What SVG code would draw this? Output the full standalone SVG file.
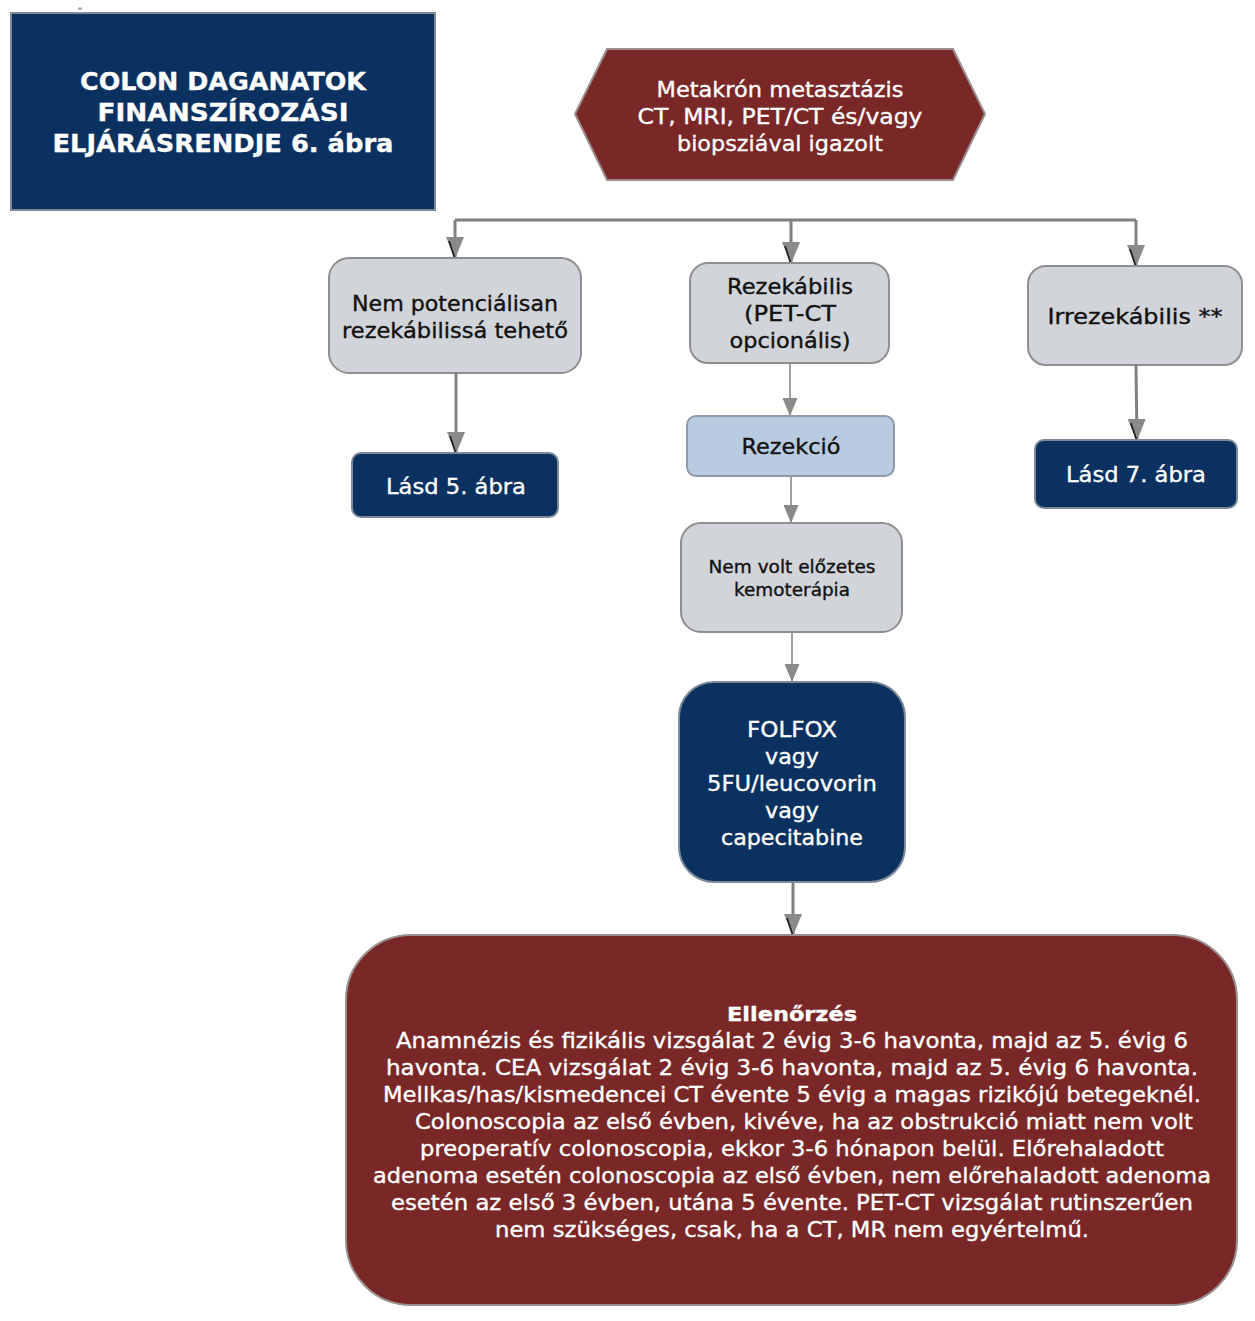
<svg xmlns="http://www.w3.org/2000/svg" width="1255" height="1321" viewBox="0 0 1255 1321">
<style>
text{font-family:"DejaVu Sans","Verdana",sans-serif;text-anchor:middle}
.w{fill:#ffffff;stroke:#ffffff;stroke-width:0.35}
.k{fill:#111111;stroke:#111111;stroke-width:0.35}
.gray{fill:#d1d4d9;stroke:#8f8f8f;stroke-width:2}
.blue{fill:#0a3160;stroke:#7f8a99;stroke-width:2}
.red{fill:#7a2727;stroke:#9a8f8f;stroke-width:2}
.c{stroke:#808080;fill:none}
</style>
<defs>
<marker id="ah" markerWidth="22" markerHeight="18" refX="22" refY="9" orient="auto" markerUnits="userSpaceOnUse" viewBox="0 0 22 18">
<path d="M0,0 L22,9 L0,18 Z" fill="#8a8a8a"/>
<path d="M4,15 L22,9" stroke="#222" stroke-width="1.8"/>
</marker>
<marker id="ahs" markerWidth="18" markerHeight="15" refX="18" refY="7.5" orient="auto" markerUnits="userSpaceOnUse" viewBox="0 0 18 15">
<path d="M0,0 L18,7.5 L0,15 Z" fill="#8a8a8a"/>
</marker>
</defs>
<rect width="1255" height="1321" fill="#ffffff"/>
<text x="80" y="9" font-size="10" fill="#555">„</text>

<g id="title">
<rect x="11" y="13" width="424" height="197" class="blue"/>
<text x="223" y="90" font-size="25" font-weight="bold" class="w" textLength="286" lengthAdjust="spacingAndGlyphs">COLON DAGANATOK</text>
<text x="223" y="121" font-size="25" font-weight="bold" class="w" textLength="251" lengthAdjust="spacingAndGlyphs">FINANSZÍROZÁSI</text>
<text x="223" y="152" font-size="25" font-weight="bold" class="w" textLength="341" lengthAdjust="spacingAndGlyphs">ELJÁRÁSRENDJE 6. ábra</text>
</g>

<g id="start">
<polygon points="575,114 607,49 953,49 985,114 953,180 607,180" class="red"/>
<text x="780" y="97" font-size="22" class="w" textLength="247" lengthAdjust="spacingAndGlyphs">Metakrón metasztázis</text>
<text x="780" y="124" font-size="22" class="w" textLength="285" lengthAdjust="spacingAndGlyphs">CT, MRI, PET/CT és/vagy</text>
<text x="780" y="151" font-size="22" class="w" textLength="206" lengthAdjust="spacingAndGlyphs">biopsziával igazolt</text>
</g>

<g id="connectors">
<path d="M455,220 L1136,220" class="c" stroke-width="3"/>
<path d="M455,220 L455,259" class="c" stroke-width="3" marker-end="url(#ah)"/>
<path d="M791,220 L791,264" class="c" stroke-width="3" marker-end="url(#ah)"/>
<path d="M1136,220 L1136,267" class="c" stroke-width="3" marker-end="url(#ah)"/>
<path d="M456,374 L456,454" class="c" stroke-width="3" marker-end="url(#ah)"/>
<path d="M790,364 L790,416" class="c" stroke-width="1.5" marker-end="url(#ahs)"/>
<path d="M1136,366 L1137,441" class="c" stroke-width="3" marker-end="url(#ah)"/>
<path d="M791,477 L791,523" class="c" stroke-width="1.5" marker-end="url(#ahs)"/>
<path d="M792,633 L792,682" class="c" stroke-width="1.5" marker-end="url(#ahs)"/>
<path d="M793,883 L793,936" class="c" stroke-width="3" marker-end="url(#ah)"/>
</g>

<g id="n1">
<rect x="329" y="258" width="252" height="115" rx="20" class="gray"/>
<text x="455" y="311" font-size="21" class="k" textLength="206" lengthAdjust="spacingAndGlyphs">Nem potenciálisan</text>
<text x="455" y="338" font-size="21" class="k" textLength="226" lengthAdjust="spacingAndGlyphs">rezekábilissá tehető</text>
</g>

<g id="n2">
<rect x="690" y="263" width="199" height="100" rx="18" class="gray"/>
<text x="790" y="294" font-size="21" class="k" textLength="126" lengthAdjust="spacingAndGlyphs">Rezekábilis</text>
<text x="790" y="321" font-size="21" class="k" textLength="92" lengthAdjust="spacingAndGlyphs">(PET-CT</text>
<text x="790" y="348" font-size="21" class="k" textLength="121" lengthAdjust="spacingAndGlyphs">opcionális)</text>
</g>

<g id="n3">
<rect x="1028" y="266" width="214" height="99" rx="18" class="gray"/>
<text x="1135" y="324" font-size="21" class="k" textLength="175" lengthAdjust="spacingAndGlyphs">Irrezekábilis **</text>
</g>

<g id="n4">
<rect x="352" y="453" width="206" height="64" rx="9" class="blue"/>
<text x="456" y="494" font-size="21" class="w" textLength="140" lengthAdjust="spacingAndGlyphs">Lásd 5. ábra</text>
</g>

<g id="n5">
<rect x="687" y="416" width="207" height="60" rx="9" fill="#b8cbe0" stroke="#8f9aa6" stroke-width="2"/>
<text x="791" y="454" font-size="21" class="k" textLength="99" lengthAdjust="spacingAndGlyphs">Rezekció</text>
</g>

<g id="n6">
<rect x="1035" y="440" width="202" height="68" rx="9" class="blue"/>
<text x="1136" y="482" font-size="21" class="w" textLength="140" lengthAdjust="spacingAndGlyphs">Lásd 7. ábra</text>
</g>

<g id="n7">
<rect x="681" y="523" width="221" height="109" rx="20" class="gray"/>
<text x="792" y="573" font-size="18" class="k" textLength="167" lengthAdjust="spacingAndGlyphs">Nem volt előzetes</text>
<text x="792" y="596" font-size="18" class="k" textLength="116" lengthAdjust="spacingAndGlyphs">kemoterápia</text>
</g>

<g id="n8">
<rect x="679" y="682" width="226" height="200" rx="35" class="blue"/>
<text x="792" y="737" font-size="21" class="w" textLength="90" lengthAdjust="spacingAndGlyphs">FOLFOX</text>
<text x="792" y="764" font-size="21" class="w" textLength="54" lengthAdjust="spacingAndGlyphs">vagy</text>
<text x="792" y="791" font-size="21" class="w" textLength="170" lengthAdjust="spacingAndGlyphs">5FU/leucovorin</text>
<text x="792" y="818" font-size="21" class="w" textLength="54" lengthAdjust="spacingAndGlyphs">vagy</text>
<text x="792" y="845" font-size="21" class="w" textLength="142" lengthAdjust="spacingAndGlyphs">capecitabine</text>
</g>

<g id="n9">
<rect x="346" y="935" width="891" height="370" rx="65" class="red"/>
<text x="792" y="1021" font-size="20" font-weight="bold" class="w" textLength="130" lengthAdjust="spacingAndGlyphs">Ellenőrzés</text>
<text x="792" y="1048" font-size="21" class="w" textLength="792" lengthAdjust="spacingAndGlyphs">Anamnézis és fizikális vizsgálat 2 évig 3-6 havonta, majd az 5. évig 6</text>
<text x="792" y="1075" font-size="21" class="w" textLength="812" lengthAdjust="spacingAndGlyphs">havonta. CEA vizsgálat  2 évig 3-6 havonta, majd az 5. évig 6 havonta.</text>
<text x="792" y="1102" font-size="21" class="w" textLength="818" lengthAdjust="spacingAndGlyphs">Mellkas/has/kismedencei CT évente 5 évig a magas rizikójú betegeknél.</text>
<text x="804" y="1129" font-size="21" class="w" textLength="778" lengthAdjust="spacingAndGlyphs">Colonoscopia az első évben, kivéve, ha az obstrukció miatt nem volt</text>
<text x="792" y="1156" font-size="21" class="w" textLength="744" lengthAdjust="spacingAndGlyphs">preoperatív colonoscopia, ekkor 3-6 hónapon belül. Előrehaladott</text>
<text x="792" y="1183" font-size="21" class="w" textLength="838" lengthAdjust="spacingAndGlyphs">adenoma esetén colonoscopia az első évben, nem előrehaladott adenoma</text>
<text x="792" y="1210" font-size="21" class="w" textLength="802" lengthAdjust="spacingAndGlyphs">esetén az első 3 évben, utána 5 évente. PET-CT vizsgálat rutinszerűen</text>
<text x="792" y="1237" font-size="21" class="w" textLength="594" lengthAdjust="spacingAndGlyphs">nem szükséges, csak, ha a CT, MR nem egyértelmű.</text>
</g>
</svg>
